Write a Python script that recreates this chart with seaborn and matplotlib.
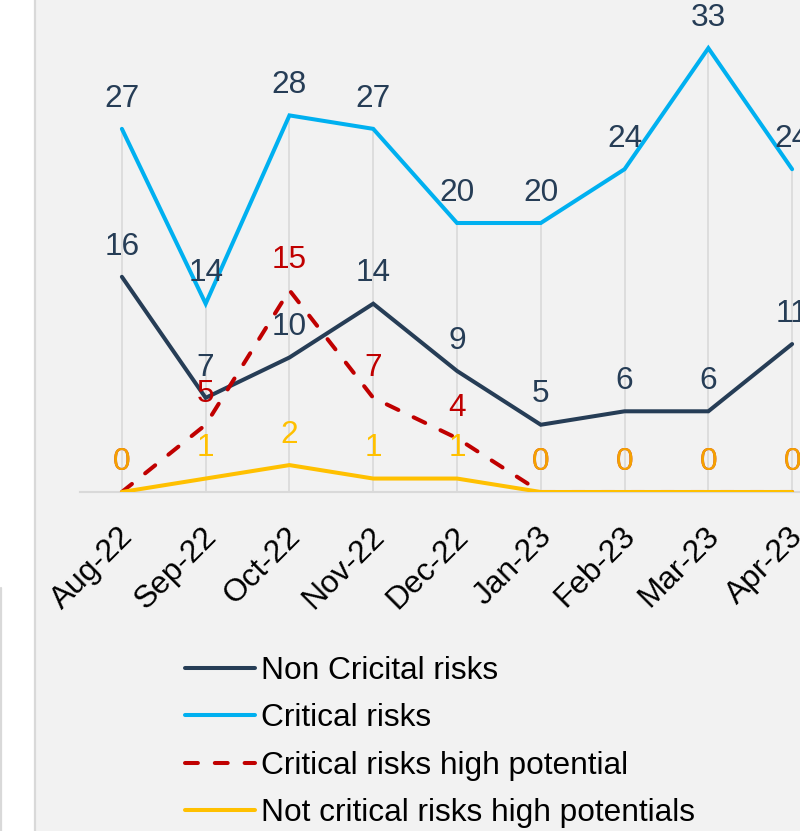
import matplotlib
matplotlib.use("Agg")
import matplotlib.pyplot as plt
from matplotlib.patches import Rectangle
from matplotlib.lines import Line2D
from matplotlib.transforms import ScaledTranslation
import seaborn as sns
import pandas as pd

months = ["Aug-22", "Sep-22", "Oct-22", "Nov-22", "Dec-22",
          "Jan-23", "Feb-23", "Mar-23", "Apr-23"]
non_critical = [16, 7, 10, 14, 9, 5, 6, 6, 11]
critical = [27, 14, 28, 27, 20, 20, 24, 33, 24]
critical_high = [0, 5, 15, 7, 4, 0, 0, 0, 0]
not_critical_high = [0, 1, 2, 1, 1, 0, 0, 0, 0]

series_names = ["Non Cricital risks", "Critical risks",
                "Critical risks high potential",
                "Not critical risks high potentials"]

sns.set_theme(style="white")
plt.rcParams["font.family"] = ["Liberation Sans", "DejaVu Sans"]

NAVY = "#263D56"
BLUE = "#00B0F0"
RED = "#C00000"
YELLOW = "#FFC000"
GRID = "#D9D9D9"
FS = 22.8

fig = plt.figure(figsize=(8.0, 8.31), dpi=100)
fig.patch.set_facecolor("#F2F2F2")

# white margin on the left with its border lines
fig.add_artist(Rectangle((0, 0), 34 / 800, 1, transform=fig.transFigure,
                         facecolor="white", edgecolor="none", zorder=0))
fig.add_artist(Line2D([34.5 / 800, 34.5 / 800], [0, 1], transform=fig.transFigure,
                      color=GRID, lw=1.6, zorder=1))
fig.add_artist(Line2D([0.8 / 800, 0.8 / 800], [0, (831 - 588) / 831],
                      transform=fig.transFigure, color=GRID, lw=1.6, zorder=1))

ymax = 36
ax = fig.add_axes([80 / 800, (831 - 492) / 831, 754 / 800, ymax * 13.45 / 831])
ax.set_facecolor("none")

df = pd.DataFrame({
    "month": months * 4,
    "pos": list(range(len(months))) * 4,
    "value": non_critical + critical + critical_high + not_critical_high,
    "series": sum([[s] * len(months) for s in series_names], []),
})

# drop lines from the highest point of each month to the axis
tops = [max(vals) for vals in zip(non_critical, critical, critical_high, not_critical_high)]
ax.vlines(range(len(months)), 0, tops, color=GRID, lw=1.2, zorder=1)

styles = {
    series_names[0]: dict(color=NAVY),
    series_names[1]: dict(color=BLUE),
    series_names[2]: dict(color=RED, dashes=(3.2, 4.2)),
    series_names[3]: dict(color=YELLOW),
}
for z, name in enumerate(series_names):
    sub = df[df["series"] == name]
    st = styles[name]
    sns.lineplot(data=sub, x="pos", y="value", ax=ax, color=st["color"],
                 lw=2.9, label=name, zorder=3 + z,
                 solid_capstyle="round", dash_capstyle="round",
                 solid_joinstyle="miter")
    if "dashes" in st:
        ax.lines[-1].set_dashes(st["dashes"])

# value labels above each point; yellow labels sit over red ones where both are 0
label_colors = [NAVY, NAVY, RED, YELLOW]
all_series = [non_critical, critical, critical_high, not_critical_high]
for k, (vals, col) in enumerate(zip(all_series, label_colors)):
    for i, v in enumerate(vals):
        alpha = 1.0
        if k == 3 and critical_high[i] == v:
            alpha = 0.85
        ax.annotate(str(v), (i, v), xytext=(0, 21.8), textcoords="offset points",
                    ha="center", va="center", fontsize=FS, color=col, alpha=alpha,
                    annotation_clip=False, zorder=10 + k)

ax.set_xlim(-0.5, 8.5)
ax.set_ylim(0, ymax)
ax.set_xticks(range(len(months)))
ax.set_xticklabels(months, rotation=45, ha="right", rotation_mode="anchor",
                   fontsize=FS, color="black")
ax.tick_params(axis="x", length=0, pad=21)
shift = ScaledTranslation(-4 / 100, 0, fig.dpi_scale_trans)
for lbl in ax.get_xticklabels():
    lbl.set_transform(lbl.get_transform() + shift)
ax.set_yticks([])
ax.set_xlabel("")
ax.set_ylabel("")
for side in ["top", "left", "right"]:
    ax.spines[side].set_visible(False)
ax.spines["bottom"].set_color(GRID)
ax.spines["bottom"].set_linewidth(1.5)

handles, labels = ax.get_legend_handles_labels()
leg = ax.legend(handles, labels, loc="upper left",
                bbox_to_anchor=(185 / 800, 1 - 656 / 831),
                bbox_transform=fig.transFigure, frameon=False, fontsize=FS,
                handlelength=2.2, handletextpad=0.2, labelspacing=0.55,
                borderpad=0, borderaxespad=0)
for h in leg.get_lines():
    h.set_linewidth(2.9)
for t in leg.get_texts():
    t.set_color("black")

fig.savefig("out.png", dpi=100, facecolor=fig.get_facecolor())
